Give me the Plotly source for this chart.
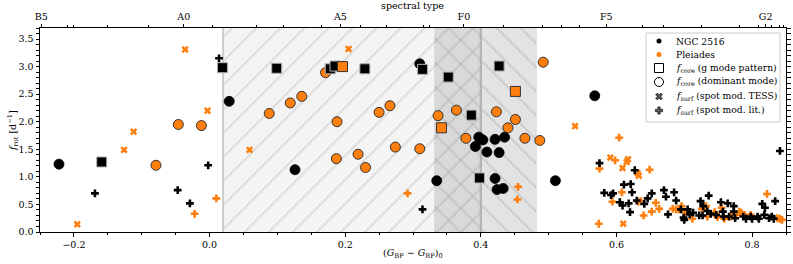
import plotly.graph_objects as go

# ---------------- data ----------------
# f_core from g-mode pattern (squares)
ngc_gmode_x = [0.019, -0.159, 0.099, 0.178, 0.185, 0.229, 0.314, 0.427, 0.352, 0.386, 0.398]
ngc_gmode_y = [2.98, 1.27, 2.97, 2.96, 3.01, 2.96, 2.95, 3.01, 2.81, 2.12, 0.98]
ple_gmode_x = [0.196, 0.451, 0.342]
ple_gmode_y = [3.00, 2.55, 1.89]

# f_core from dominant mode (circles)
ngc_dom_x = [-0.222, 0.029, 0.310, 0.126, 0.335, 0.397, 0.403, 0.421, 0.435, 0.392, 0.409,
             0.427, 0.421, 0.424, 0.433, 0.510, 0.568]
ngc_dom_y = [1.23, 2.37, 3.05, 1.13, 0.93, 1.72, 1.67, 1.68, 1.72, 1.55, 1.45,
             1.44, 0.97, 0.77, 0.79, 0.93, 2.47]
ple_dom_x = [-0.046, -0.012, -0.079, 0.171, 0.136, 0.119, 0.088, 0.266, 0.250, 0.188, 0.337,
             0.274, 0.310, 0.219, 0.187, 0.230, 0.492, 0.364, 0.423, 0.451, 0.440, 0.378,
             0.465, 0.487]
ple_dom_y = [1.95, 1.93, 1.21, 2.89, 2.46, 2.34, 2.15, 2.29, 2.17, 2.00, 2.11,
             1.54, 1.51, 1.41, 1.33, 1.17, 3.08, 2.21, 2.18, 2.04, 1.89, 1.70,
             1.70, 1.66]

# f_surf spot modulation TESS (x)
ple_tess_x = [-0.036, -0.003, -0.112, -0.126, -0.195, 0.205, 0.059, 0.539, 0.591, 0.617,
              0.615, 0.609, 0.631, 0.633, 0.610]
ple_tess_y = [3.31, 2.20, 1.82, 1.49, 0.14, 3.32, 1.49, 1.92, 1.35, 1.32,
              1.27, 1.16, 1.07, 1.02, 0.15]

# f_surf spot modulation literature (+)
ple_lit_x = [0.010, -0.022, 0.292, 0.455, 0.454, 0.604, 0.598, 0.575, 0.649, 0.594, 0.608,
             0.574, 0.632, 0.636, 0.640, 0.652, 0.658, 0.663, 0.683, 0.688, 0.692, 0.696,
             0.701, 0.712, 0.726, 0.732, 0.734, 0.745, 0.749, 0.755, 0.759, 0.769, 0.776,
             0.781, 0.784, 0.789, 0.798, 0.822, 0.837, 0.841, 0.844]
ple_lit_y = [0.61, 0.33, 0.70, 0.82, 0.59, 1.71, 1.30, 1.15, 1.13, 0.55, 0.72,
             0.15, 0.55, 0.56, 0.30, 0.37, 0.53, 0.42, 0.42, 0.41, 0.41, 0.47,
             0.36, 0.24, 0.42, 0.47, 0.28, 0.36, 0.27, 0.44, 0.24, 0.28, 0.31,
             0.37, 0.35, 0.31, 0.31, 0.69, 0.25, 0.24, 0.22]
ngc_lit_x = [0.014, -0.002, -0.169, -0.047, -0.029, 0.314, 0.575, 0.627, 0.841, 0.582, 0.592,
             0.595, 0.611, 0.621, 0.623, 0.605, 0.609, 0.618, 0.620, 0.630, 0.641, 0.646,
             0.652, 0.670, 0.673, 0.676, 0.685, 0.688, 0.695, 0.699, 0.700, 0.705, 0.708,
             0.713, 0.722, 0.724, 0.728, 0.727, 0.734, 0.736, 0.739, 0.747, 0.754, 0.757,
             0.758, 0.764, 0.766, 0.773, 0.773, 0.775, 0.787, 0.791, 0.798, 0.800, 0.808,
             0.810, 0.815, 0.819, 0.818, 0.825, 0.829, 0.832, 0.834]
ngc_lit_y = [3.15, 1.21, 0.70, 0.76, 0.52, 0.41, 1.25, 1.12, 1.47, 0.71, 0.67,
             0.70, 0.86, 0.87, 0.72, 0.54, 0.48, 0.52, 0.36, 0.57, 0.51, 0.61,
             0.70, 0.76, 0.64, 0.32, 0.72, 0.57, 0.41, 0.26, 0.22, 0.41, 0.32,
             0.35, 0.30, 0.56, 0.47, 0.30, 0.38, 0.66, 0.33, 0.31, 0.54, 0.37,
             0.28, 0.52, 0.28, 0.37, 0.47, 0.25, 0.28, 0.24, 0.28, 0.24, 0.28,
             0.24, 0.51, 0.44, 0.31, 0.25, 0.28, 0.24, 0.56]

# shaded colour ranges (x limits)
region_a = [0.02, 0.40]
region_b = [0.332, 0.482]

# spectral-type axis
spt_major_vals = [-0.248, -0.038, 0.193, 0.375, 0.585, 0.820]
spt_major_text = ["B5", "A0", "A5", "F0", "F5", "G2"]
spt_minor_vals = [-0.209, -0.200, -0.150, -0.090, 0.004, 0.069, 0.109, 0.165, 0.222, 0.261,
                  0.315, 0.325, 0.434, 0.491, 0.519, 0.546, 0.638, 0.669, 0.725, 0.781,
                  0.810, 0.829, 0.840, 0.847]

# legend labels
legend_labels = ["NGC 2516", "Pleiades",
                 "<i>f</i><sub>core</sub> (g mode pattern)",
                 "<i>f</i><sub>core</sub> (dominant mode)",
                 "<i>f</i><sub>surf</sub> (spot mod. TESS)",
                 "<i>f</i><sub>surf</sub> (spot mod. lit.)"]

X_RANGE = [-0.25, 0.85]
Y_RANGE = [0.0, 3.7]

ORANGE = "#ff7f0e"
FONT = "DejaVu Serif"
FS = 9.5

W, H = 793, 264
L, R, T, B = 40, 7, 28, 32
PW, PH = W - L - R, H - T - B


def px2paper(px, py):
    return (px - L) / PW, (H - B - py) / PH


fig = go.Figure()

# shaded regions
fig.add_trace(go.Scatter(
    x=[region_a[0], region_a[1], region_a[1], region_a[0], region_a[0]],
    y=[-1, -1, 5, 5, -1], mode="lines", fill="toself",
    fillcolor="#f4f4f4",
    fillpattern=dict(shape="/", fgcolor="#bdbdbd", bgcolor="#f4f4f4", size=17,
                     solidity=0.1, fillmode="overlay"),
    line=dict(color="#cccccc", width=2), hoverinfo="skip", showlegend=False))
fig.add_trace(go.Scatter(
    x=[region_b[0], region_b[1], region_b[1], region_b[0], region_b[0]],
    y=[-1, -1, 5, 5, -1], mode="lines", fill="toself",
    fillcolor="rgba(0,0,0,0.11)",
    fillpattern=dict(shape="\\", fgcolor="#b0b0b0", bgcolor="rgba(0,0,0,0.11)", size=17,
                     solidity=0.1, fillmode="overlay"),
    line=dict(color="rgba(0,0,0,0.05)", width=1.5), hoverinfo="skip", showlegend=False))
fig.add_trace(go.Scatter(x=[region_a[1], region_a[1]], y=[-1, 5], mode="lines",
                         line=dict(color="#b4b4b4", width=2), hoverinfo="skip",
                         showlegend=False))


def pts(x, y, symbol, size, color, lcolor, lwidth):
    fig.add_trace(go.Scatter(x=x, y=y, mode="markers", showlegend=False,
                             marker=dict(symbol=symbol, size=size, color=color,
                                         line=dict(color=lcolor, width=lwidth))))


pts(ple_tess_x, ple_tess_y, "x", 6.5, ORANGE, ORANGE, 0)
pts(ple_lit_x, ple_lit_y, "cross", 6.5, ORANGE, ORANGE, 0)
pts(ngc_lit_x, ngc_lit_y, "cross", 6.5, "black", "black", 0)
pts(ngc_dom_x, ngc_dom_y, "circle", 10, "black", "black", 0.8)
pts(ple_dom_x, ple_dom_y, "circle", 10, ORANGE, "#222222", 0.9)
pts(ngc_gmode_x, ngc_gmode_y, "square", 10, "black", "#b0b0b0", 1)
pts(ple_gmode_x, ple_gmode_y, "square", 10, ORANGE, "#333333", 1)

# ---------- manual legend ----------
x0, y0 = px2paper(646, 122)
x1, y1 = px2paper(780, 33)
fig.add_shape(type="rect", xref="paper", yref="paper", x0=x0, y0=y0, x1=x1, y1=y1,
              fillcolor="rgba(255,255,255,0.9)", line=dict(color="#cccccc", width=1),
              layer="below")
leg_syms = [("circle", 5, "black", "black", 0), ("circle", 5, ORANGE, ORANGE, 0),
            ("square-open", 9, "black", "black", 1), ("circle-open", 9, "black", "black", 1),
            ("x", 6, "#555555", "black", 0.6), ("cross", 6, "#555555", "black", 0.6)]
row_y = [41, 54.5, 68, 82, 96.5, 110.5]
for i, (sym, sz, col, lc, lw) in enumerate(leg_syms):
    px_, py_ = px2paper(659, row_y[i])
    fig.add_trace(go.Scatter(x=[px_], y=[py_], xaxis="x3", yaxis="y3", mode="markers",
                             showlegend=False, hoverinfo="skip",
                             marker=dict(symbol=sym, size=sz, color=col,
                                         line=dict(color=lc, width=lw))))
    tx, ty = px2paper(674, row_y[i])
    fig.add_annotation(x=tx, y=ty, xref="paper", yref="paper", text=legend_labels[i],
                       showarrow=False, xanchor="left", yanchor="middle",
                       font=dict(family=FONT, size=9.2, color="black"))

tickfont = dict(family=FONT, size=FS, color="black")

fig.update_layout(
    width=W, height=H,
    margin=dict(l=L, r=R, t=T, b=B, autoexpand=False),
    plot_bgcolor="white", paper_bgcolor="white",
    font=dict(family=FONT, size=FS, color="black"),
    showlegend=False,
    xaxis=dict(range=X_RANGE, showgrid=False, zeroline=False, showline=True, automargin=False,
               linecolor="black", linewidth=1, mirror=True,
               ticks="outside", ticklen=3.5, tickwidth=1, tickcolor="black",
               tickmode="array", tickvals=[-0.2, 0.0, 0.2, 0.4, 0.6, 0.8],
               ticktext=["−0.2", "0.0", "0.2", "0.4", "0.6", "0.8"], tickfont=tickfont,
               minor=dict(ticks="outside", ticklen=2, dtick=0.05, tick0=0, tickcolor="black",
                          showgrid=False)),
    xaxis2=dict(range=X_RANGE, overlaying="x", side="top", showgrid=False, zeroline=False,
                showline=False, automargin=False, ticks="outside", ticklen=3.5, tickwidth=1,
                tickcolor="black", tickmode="array", tickvals=spt_major_vals,
                ticktext=spt_major_text, tickfont=tickfont,
                minor=dict(ticks="outside", ticklen=2, tickmode="array",
                           tickvals=spt_minor_vals, tickcolor="black", showgrid=False)),
    xaxis3=dict(range=[0, 1], domain=[0, 1], visible=False, overlaying="x", fixedrange=True),
    yaxis3=dict(range=[0, 1], domain=[0, 1], visible=False, overlaying="y", fixedrange=True,
                anchor="x3"),
    yaxis=dict(range=Y_RANGE, showgrid=False, zeroline=False, showline=True, automargin=False,
               linecolor="black", linewidth=1, mirror="allticks",
               ticks="outside", ticklen=3.5, tickwidth=1, tickcolor="black",
               dtick=0.5, tick0=0, tickformat=".1f", tickfont=tickfont,
               minor=dict(ticks="outside", ticklen=2, dtick=0.1, tick0=0, tickcolor="black",
                          showgrid=False)),
)
fig.add_trace(go.Scatter(x=[None], y=[None], xaxis="x2", showlegend=False, hoverinfo="skip"))

# axis titles
ax, ay = px2paper(413, 253)
fig.add_annotation(x=ax, y=ay, xref="paper", yref="paper", showarrow=False,
                   text="(<i>G</i><sub>BP</sub> − <i>G</i><sub>RP</sub>)<sub>0</sub>",
                   font=dict(family=FONT, size=FS), xanchor="center", yanchor="middle")
ax, ay = px2paper(412, 6)
fig.add_annotation(x=ax, y=ay, xref="paper", yref="paper", showarrow=False,
                   text="spectral type", font=dict(family=FONT, size=FS),
                   xanchor="center", yanchor="middle")
ax, ay = px2paper(13, 130)
fig.add_annotation(x=ax, y=ay, xref="paper", yref="paper", showarrow=False, textangle=-90,
                   text="<i>f</i><sub>rot</sub> [d<sup>−1</sup>]",
                   font=dict(family=FONT, size=FS), xanchor="center", yanchor="middle")

fig.write_html("out.html", config={"displayModeBar": False},
               post_script="document.body.style.margin='0';document.body.style.padding='0';")
